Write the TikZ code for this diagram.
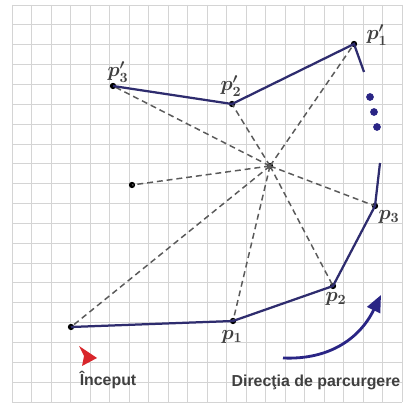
\documentclass[tikz,border=0pt]{standalone}
\usepackage{fontspec}
\newfontfamily\capfont{Liberation Sans}
\usetikzlibrary{arrows.meta}

\definecolor{hullblue}{HTML}{2E2C6E}
\definecolor{raygray}{HTML}{5A5A5A}
\definecolor{gridgray}{HTML}{D4D4D4}
\definecolor{textgray}{HTML}{404040}
\definecolor{dirblue}{HTML}{2A2585}
\definecolor{startred}{HTML}{D8262B}

\begin{document}
\begin{tikzpicture}[x=0.025cm,y=-0.025cm,
    hull/.style={draw=hullblue,line width=1.6pt},
    ray/.style={draw=raygray,line width=1.05pt,dash pattern=on 4.2pt off 2.8pt},
    pt/.style={circle,fill=black,inner sep=0pt,minimum size=4.5pt},
    dotpt/.style={circle,fill=dirblue,inner sep=0pt,minimum size=5.5pt},
    plabel/.style={text=textgray,font=\Large\boldmath,inner sep=0pt},
    caption/.style={text=textgray,font=\capfont\bfseries\fontsize{11.3}{13}\selectfont,inner sep=0pt}]

    \useasboundingbox (0,0) rectangle (409,406);
    \fill[white] (0,0) rectangle (409,406);
    % grid
    \foreach \i in {0,...,20}
        \draw[gridgray,line width=0.6pt] (12+19.5*\i,5) -- (12+19.5*\i,402);
    \foreach \i in {0,...,20}
        \draw[gridgray,line width=0.6pt] (12,5+19.85*\i) -- (402,5+19.85*\i);

    % points
    \node[pt] (p0) at (71,327) {};
    \node[pt] (p1) at (233,321) {};
    \node[pt] (p2) at (333,286) {};
    \node[pt] (p3) at (375,206) {};
    \node[pt] (c)  at (270,166) {};
    \node[pt] (q)  at (132,185) {};
    \node[pt] (s3) at (113,86) {};
    \node[pt] (s2) at (232,104) {};
    \node[pt] (s1) at (354,44) {};
    \coordinate (e1) at (364,72);
    \coordinate (e2) at (380,163);

    \node[dotpt] (d1) at (370,97) {};
    \node[dotpt] (d2) at (374,112) {};
    \node[dotpt] (d3) at (377,127) {};

    % rays from the centre
    \foreach \t in {p0,p1,p2,p3,q,s3,s2,s1}
        \draw[ray] (c.center) -- (\t.center);

    % hull chains
    \draw[hull] (p0.center) -- (p1.center) -- (p2.center) -- (p3.center) -- (e2);
    \draw[hull] (s3.center) -- (s2.center) -- (s1.center) -- (e1);

    % labels
    \node[plabel] (l1) at (232,337) {$p_{1}$};
    \node[plabel] (l2) at (336,299) {$p_{2}$};
    \node[plabel] (l3) at (389,217) {$p_{3}$};
    \node[plabel] (l4) at (118,72) {$p'_{3}$};
    \node[plabel] (l5) at (231,86) {$p'_{2}$};
    \node[plabel] (l6) at (377,35) {$p'_{1}$};

    % start marker and direction
    \fill[startred] (79,346) -- (97,358) -- (82,366) -- (84,356) -- cycle;
    \node[caption] (start) at (108,380) {Început};
    \coordinate (dira) at (283,358);
    \coordinate (dirb) at (381,295);
    \draw[dirblue,line width=2pt,-{Triangle[length=12pt,width=10pt]}]
        (dira) .. controls (330,360) and (360,338) .. (dirb);
    \node[caption] (dir) at (316,382) {Direcţia de parcurgere};
\end{tikzpicture}
\end{document}
